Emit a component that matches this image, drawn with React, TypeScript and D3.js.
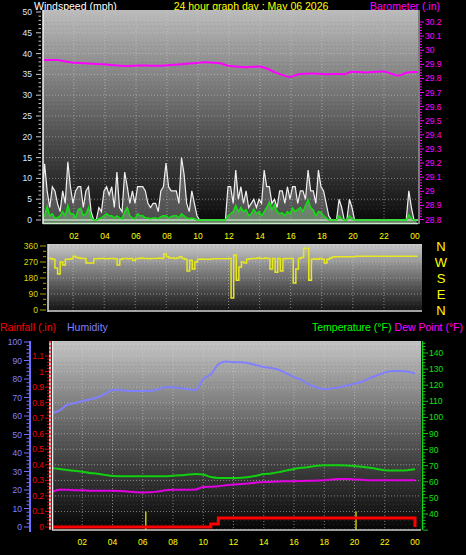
import React from "react";
import * as d3 from "d3";

// ---------- DATA ----------
// wind samples every 10 minutes from 00:00
const windGust: number[] = [
  5, 13.5, 7, 3, 8, 7, 4, 2, 7, 4, 14, 8, 4, 7, 8, 8, 3, 7, 8, 2,
  0, 0, 3, 2, 7, 8, 6, 8, 3, 11.5, 3, 2, 11.5, 8, 4, 7, 4, 8, 8, 8,
  7, 4, 3, 4, 4, 2, 7, 8, 13.7, 8, 7, 7, 7, 4, 15, 11, 4, 2, 7, 4,
  1, 0, 0, 0, 0, 0, 0, 0, 0, 0, 0, 0, 8, 8, 4, 12, 5, 8, 4, 7,
  3, 4, 5, 3, 5, 4, 12, 8, 8, 4, 5, 3, 7, 7, 4, 8, 5, 8, 8, 4,
  7, 7, 5, 12, 7, 7, 4, 12, 8, 7, 4, 1, 0, 0, 0, 5, 3, 0, 0, 5,
  3, 0, 0, 0, 0, 0, 0, 0, 0, 0, 0, 0, 0, 0, 0, 0, 0, 0, 0, 0,
  0, 0, 7, 3, 0, 0,
];
const windSpeed: number[] = [
  0.5, 1, 3.3, 1, 1.5, 0.5, 0.5, 1, 2, 1, 3.5, 1.5, 1.5, 0.5, 2.5, 2.8, 1, 1.5, 3, 0.5,
  0, 0, 0.3, 0.5, 1, 1.5, 1, 1, 0.5, 1, 0.5, 0.3, 2, 3, 1, 0.5, 0.3, 1.5, 1, 1,
  0.5, 0.5, 0.3, 0.5, 0.5, 0.3, 0.8, 1, 1, 0.5, 0.8, 1, 1, 0.5, 1.5, 1, 0.5, 0.3, 0.5, 0.3,
  0, 0, 0, 0, 0, 0, 0, 0, 0, 0, 0, 0, 1, 1.5, 2, 3.5, 2, 3, 2, 2.5,
  1, 1.5, 2.6, 1.5, 2, 1, 2, 3, 4.3, 2.5, 3.6, 2, 1.5, 1.7, 1, 2, 1.5, 2.9, 2, 2.5,
  3, 2, 3.5, 4.8, 3, 2.4, 1, 2, 1.9, 1, 0.5, 0, 0, 0, 0, 1, 0.3, 0, 0, 1,
  0.3, 0, 0, 0, 0, 0, 0, 0, 0, 0, 0, 0, 0, 0, 0, 0, 0, 0, 0, 0,
  0, 0, 1.2, 0.3, 0, 0,
];
const windDir: number[] = [
  290, 290, 290, 290, 285, 236, 202, 270, 253, 285, 285, 288, 303, 295, 292, 290, 290, 264, 264, 264,
  288, 288, 290, 290, 288, 288, 290, 290, 288, 253, 285, 290, 290, 288, 290, 278, 288, 290, 292, 290,
  290, 288, 290, 290, 290, 292, 290, 315, 300, 292, 292, 290, 292, 300, 290, 285, 219, 280, 230, 270,
  285, 287, 286, 286, 286, 287, 288, 288, 288, 288, 288, 288, 290, 67, 309, 168, 242, 270, 264, 285,
  288, 290, 290, 292, 290, 290, 292, 290, 230, 290, 213, 290, 220, 288, 290, 290, 290, 152, 230, 290,
  295, 348, 348, 168, 285, 288, 285, 290, 285, 264, 285, 292, 298, 300, 300, 300, 300, 300, 300, 300,
  300, 303, 303, 303, 303, 303, 303, 303, 303, 303, 303, 303, 303, 303, 303, 303, 303, 303, 303, 303,
  303, 303, 303, 303, 303, 303,
];
// half-hourly samples
const barometer: number[] = [
  29.93, 29.93, 29.93, 29.92, 29.912, 29.91, 29.905, 29.903, 29.9, 29.895,
  29.89, 29.888, 29.89, 29.892, 29.89, 29.889, 29.892, 29.897, 29.9, 29.905,
  29.91, 29.915, 29.912, 29.908, 29.89, 29.885, 29.88, 29.882, 29.884, 29.87,
  29.845, 29.825, 29.81, 29.828, 29.833, 29.835, 29.832, 29.83, 29.832, 29.83,
  29.848, 29.845, 29.842, 29.848, 29.85, 29.835, 29.82, 29.84, 29.846, 29.844,
];
const humidity: number[] = [
  61.5, 63, 66, 67, 68, 69, 70, 72, 74, 74, 73.5, 73.5, 73.5, 73.5, 74.5, 75.5, 75.5, 75, 74.5, 74,
  80, 82.5, 88, 89.5, 89, 89, 88.5, 87.5, 86.5, 86, 85, 83, 81, 79.5, 77, 75.5, 74.5, 75, 75.5, 76.5,
  77.5, 78.5, 80.5, 82, 83.5, 84.3, 84.3, 84, 83,
];
const temperature: number[] = [
  68.5, 68, 67.3, 66.8, 66.2, 65.5, 65, 64.3, 63.6, 63.5, 63.5, 63.5, 63.5, 63.5, 63.5, 63.5, 63.8, 64, 64.5, 64.8,
  64.5, 63, 62.4, 62.3, 62.3, 62.5, 63, 63.8, 64.8, 65.2, 66, 67, 68, 68.7, 69.2, 70, 70.3, 70.3, 70.3, 70.2,
  69.8, 69.3, 68.7, 68, 67.2, 67, 67, 67.2, 67.8,
];
const dewPoint: number[] = [
  53.6, 55, 55, 54.8, 54.8, 54.5, 54.5, 54.4, 54.5, 54.3, 54, 53.5, 53.4, 53.5, 54, 54.7, 55, 55, 55, 55.2,
  56.8, 57, 57.3, 57.8, 58.3, 58.6, 59, 59.5, 59.8, 60, 60.2, 60.4, 60.4, 60.5, 60.6, 60.8, 61, 61.5, 61.7, 61.8,
  61.5, 61.3, 61, 61, 61, 61, 61, 61, 61,
];
const rainfall: number[] = [
  0, 0, 0, 0, 0, 0, 0, 0, 0, 0, 0, 0, 0, 0, 0, 0, 0, 0, 0, 0,
  0, 0.02, 0.058, 0.058, 0.058, 0.058, 0.058, 0.058, 0.058, 0.058, 0.058, 0.058, 0.058, 0.058, 0.058, 0.058, 0.058, 0.058, 0.058, 0.058,
  0.058, 0.058, 0.058, 0.058, 0.058, 0.058, 0.058, 0.058, 0,
];
const sunMarkers: number[] = [6.2, 20.1];
const hourTicks: number[] = [2, 4, 6, 8, 10, 12, 14, 16, 18, 20, 22, 24];
const hourLabels: string[] = ["02", "04", "06", "08", "10", "12", "14", "16", "18", "20", "22", "00"];
const compass: string[] = ["N", "W", "S", "E", "N"];
const compassDeg: number[] = [360, 270, 180, 90, 0];

const FONT = "'Liberation Sans', Arial, sans-serif";

function range(a: number, b: number, s: number): number[] {
  const out: number[] = [];
  for (let v = a; v <= b + 1e-9; v += s) out.push(+v.toFixed(4));
  return out;
}

export default function App() {
  // top panel
  const TOP = { x0: 43, x1: 418, y0: 10, y1: 224 };
  const xTop = d3.scaleLinear().domain([0, 24]).range([42, 414]);
  const yWind = d3.scaleLinear().domain([0, 50]).range([220, 12]);
  const yBaro = d3.scaleLinear().domain([28.8, 30.2]).range([219.5, 22]);
  // middle panel
  const MID = { x0: 48, x1: 422, y0: 244, y1: 312 };
  const xMid = d3.scaleLinear().domain([0, 24]).range([42, 415]);
  const yDir = d3.scaleLinear().domain([0, 360]).range([310, 246]);
  // bottom panel
  const BOT = { x0: 52, x1: 421, y0: 341, y1: 530 };
  const xBot = d3.scaleLinear().domain([0, 24]).range([52, 415]);
  const yHum = d3.scaleLinear().domain([0, 100]).range([527, 342]);
  const yRain = d3.scaleLinear().domain([0, 1.1]).range([527, 356]);
  const yTemp = d3.scaleLinear().domain([40, 140]).range([514, 353]);

  const t10 = (i: number) => i / 6;
  const t30 = (i: number) => i / 2;

  const gustArea = d3.area<number>().x((_, i) => xTop(t10(i))).y0(yWind(0) + 3).y1((d) => yWind(d))(windGust) || "";
  const gustLine = d3.line<number>().x((_, i) => xTop(t10(i))).y((d) => yWind(d))(windGust) || "";
  const speedArea = d3.area<number>().x((_, i) => xTop(t10(i))).y0(yWind(0) + 3).y1((d) => yWind(d))(windSpeed) || "";
  const speedLine = d3.line<number>().x((_, i) => xTop(t10(i))).y((d) => yWind(d))(windSpeed) || "";
  const baroLine = d3.line<number>().x((_, i) => xTop(t30(i))).y((d) => yBaro(d)).curve(d3.curveMonotoneX)(barometer) || "";
  const dirLine = d3.line<number>().x((_, i) => xMid(t10(i))).y((d) => yDir(d)).curve(d3.curveStepAfter)(windDir) || "";
  const humLine = d3.line<number>().x((_, i) => xBot(t30(i))).y((d) => yHum(d)).curve(d3.curveMonotoneX)(humidity) || "";
  const tempLine = d3.line<number>().x((_, i) => xBot(t30(i))).y((d) => yTemp(d)).curve(d3.curveMonotoneX)(temperature) || "";
  const dewLine = d3.line<number>().x((_, i) => xBot(t30(i))).y((d) => yTemp(d)).curve(d3.curveMonotoneX)(dewPoint) || "";
  const rainLine = d3.line<number>().x((_, i) => xBot(t30(i))).y((d) => yRain(d)).curve(d3.curveStepAfter)(rainfall) || "";

  const gridStyle = { stroke: "#d0d0d0", strokeWidth: 1, strokeDasharray: "1 2", opacity: 0.55 };

  return (
    <svg
      width={466}
      height={555}
      style={{ position: "fixed", left: 0, top: 0, background: "#000", fontFamily: FONT }}
    >
      <defs>
        <linearGradient id="gTop" x1="0" y1="0" x2="0" y2="1">
          <stop offset="0" stopColor="#bcbcbc" />
          <stop offset="0.5" stopColor="#606060" />
          <stop offset="1" stopColor="#080808" />
        </linearGradient>
        <linearGradient id="gMid" x1="0" y1="0" x2="0" y2="1">
          <stop offset="0" stopColor="#c8c8c8" />
          <stop offset="1" stopColor="#101010" />
        </linearGradient>
        <linearGradient id="gBot" x1="0" y1="0" x2="0" y2="1">
          <stop offset="0" stopColor="#c4c4c4" />
          <stop offset="0.5" stopColor="#5a5a5a" />
          <stop offset="1" stopColor="#060606" />
        </linearGradient>
        <pattern id="dither" width="4" height="20" patternUnits="userSpaceOnUse">
          <rect x="0" y="0" width="1" height="1" fill="#ffffff" opacity="0.08" />
          <rect x="2" y="2" width="1" height="1" fill="#000000" opacity="0.1" />
          <rect x="1" y="4" width="1" height="1" fill="#ffffff" opacity="0.08" />
          <rect x="3" y="6" width="1" height="1" fill="#000000" opacity="0.1" />
          <rect x="0" y="8" width="1" height="1" fill="#ffffff" opacity="0.08" />
        </pattern>
        <clipPath id="cTop"><rect x={TOP.x0} y={TOP.y0} width={TOP.x1 - TOP.x0} height={TOP.y1 - TOP.y0} /></clipPath>
        <clipPath id="cMid"><rect x={MID.x0} y={MID.y0} width={MID.x1 - MID.x0} height={MID.y1 - MID.y0} /></clipPath>
        <clipPath id="cBot"><rect x={BOT.x0} y={BOT.y0} width={BOT.x1 - BOT.x0} height={BOT.y1 - BOT.y0} /></clipPath>
      </defs>

      {/* ---------- TOP PANEL ---------- */}
      <text x={34} y={10} fill="#ffffff" fontSize={10.5}>Windspeed (mph)</text>
      <text x={251} y={10} fill="#ffff00" fontSize={10.5} textAnchor="middle">24 hour graph day : May 06 2026</text>
      <text x={440} y={10} fill="#ff00ff" fontSize={10.5} textAnchor="end">Barometer (.in)</text>

      <rect x={TOP.x0} y={TOP.y0} width={TOP.x1 - TOP.x0} height={TOP.y1 - TOP.y0} fill="url(#gTop)" />
      <rect x={TOP.x0} y={TOP.y0} width={TOP.x1 - TOP.x0} height={TOP.y1 - TOP.y0} fill="url(#dither)" />
      <g clipPath="url(#cTop)">
        {hourTicks.slice(0, -1).map((h) => (
          <line key={"tv" + h} x1={xTop(h) + 1} x2={xTop(h) + 1} y1={TOP.y0} y2={TOP.y1} {...gridStyle} />
        ))}
        {range(5, 45, 5).map((v) => (
          <line key={"th" + v} x1={TOP.x0} x2={TOP.x1} y1={yWind(v)} y2={yWind(v)} {...gridStyle} />
        ))}
        <line x1={TOP.x0} x2={TOP.x1} y1={yWind(0)} y2={yWind(0)} stroke="#d8d8d8" strokeWidth={1.5} />
        <path d={gustArea} fill="rgba(200,200,200,0.35)" />
        <path d={gustLine} fill="none" stroke="#f0f0f0" strokeWidth={1.2} />
        <path d={speedArea} fill="rgba(160,230,160,0.35)" />
        <path d={speedLine} fill="none" stroke="#10e010" strokeWidth={1.5} />
        <path d={baroLine} fill="none" stroke="#ff00ff" strokeWidth={2} />
      </g>
      <line x1={TOP.x0} x2={TOP.x0} y1={TOP.y0} y2={TOP.y1} stroke="#f0f0f0" strokeWidth={1.5} />
      <line x1={TOP.x0} x2={TOP.x1} y1={TOP.y1 - 0.5} y2={TOP.y1 - 0.5} stroke="#c8ecc8" strokeWidth={1.5} />
      {/* left wind axis */}
      {range(0, 50, 1).map((v) => (
        <line key={"wm" + v} x1={v % 5 === 0 ? 36 : 38.5} x2={41} y1={yWind(v)} y2={yWind(v)} stroke="#c8c8c8" strokeWidth={1} />
      ))}
      {range(0, 50, 5).map((v) => (
        <text key={"wl" + v} x={32} y={yWind(v) + 3} fill="#dde6ff" fontSize={8.5} textAnchor="end">{v}</text>
      ))}
      {/* right baro axis */}
      <line x1={419} x2={419} y1={TOP.y0} y2={TOP.y1} stroke="#ffffff" strokeWidth={1} />
      {range(28.8, 30.2, 0.02).map((v, i) => (
        <line key={"bm" + i} x1={419} x2={i % 5 === 0 ? 424 : 422} y1={yBaro(v)} y2={yBaro(v)} stroke="#ff00ff" strokeWidth={1} />
      ))}
      {range(28.8, 30.2, 0.1).map((v) => (
        <text key={"bl" + v} x={425} y={yBaro(v) + 3} fill="#ff00ff" fontSize={8.5}>{d3.format(".3~f")(v)}</text>
      ))}

      {/* x labels between top & middle */}
      {hourTicks.map((h, i) => (
        <text key={"xl1" + h} x={xTop(h) + 1} y={239} fill="#ffff00" fontSize={8.5} textAnchor="middle">{hourLabels[i]}</text>
      ))}

      {/* ---------- MIDDLE PANEL ---------- */}
      <rect x={MID.x0} y={MID.y0} width={MID.x1 - MID.x0} height={MID.y1 - MID.y0} fill="url(#gMid)" />
      <rect x={MID.x0} y={MID.y0} width={MID.x1 - MID.x0} height={MID.y1 - MID.y0} fill="url(#dither)" />
      <g clipPath="url(#cMid)">
        {hourTicks.slice(0, -1).map((h) => (
          <line key={"mv" + h} x1={xMid(h)} x2={xMid(h)} y1={MID.y0} y2={MID.y1} {...gridStyle} />
        ))}
        {[90, 180, 270].map((v) => (
          <line key={"mh" + v} x1={MID.x0} x2={MID.x1} y1={yDir(v)} y2={yDir(v)} {...gridStyle} />
        ))}
        <path d={dirLine} fill="none" stroke="#e8e820" strokeWidth={1.5} />
      </g>
      <line x1={MID.x0} x2={MID.x0} y1={MID.y0} y2={MID.y1} stroke="#e0e0e0" strokeWidth={1.5} />
      <line x1={MID.x0} x2={MID.x1} y1={MID.y1 - 1} y2={MID.y1 - 1} stroke="#d0d0d0" strokeWidth={1.5} />
      {range(0, 360, 30).map((v) => (
        <line key={"dm" + v} x1={v % 90 === 0 ? 40 : 43} x2={46} y1={yDir(v)} y2={yDir(v)} stroke="#a0a000" strokeWidth={1} />
      ))}
      {[0, 90, 180, 270, 360].map((v) => (
        <text key={"dl" + v} x={38} y={yDir(v) + 3} fill="#d8d800" fontSize={8.5} textAnchor="end">{v}</text>
      ))}
      {compass.map((c, i) => (
        <text key={"cp" + i} x={441} y={yDir(compassDeg[i]) + 5} fill="#ffff00" fontSize={13} textAnchor="middle">{c}</text>
      ))}

      {/* ---------- BOTTOM PANEL ---------- */}
      <text x={0} y={331} fill="#ff0000" fontSize={10.5}>Rainfall (.in)</text>
      <text x={67} y={331} fill="#8080ff" fontSize={10.5}>Humidity</text>
      <text x={312} y={331} fill="#00ff00" fontSize={10.5}>Temperature (°F)</text>
      <text x={463} y={331} fill="#ff00ff" fontSize={10.5} textAnchor="end">Dew Point (°F)</text>

      <rect x={BOT.x0} y={BOT.y0} width={BOT.x1 - BOT.x0} height={BOT.y1 - BOT.y0} fill="url(#gBot)" />
      <rect x={BOT.x0} y={BOT.y0} width={BOT.x1 - BOT.x0} height={BOT.y1 - BOT.y0} fill="url(#dither)" />
      <g clipPath="url(#cBot)">
        {hourTicks.slice(0, -1).map((h) => (
          <line key={"bv" + h} x1={xBot(h)} x2={xBot(h)} y1={BOT.y0} y2={BOT.y1} {...gridStyle} />
        ))}
        {range(0.1, 1.1, 0.1).map((v) => (
          <line key={"bh" + v} x1={BOT.x0} x2={BOT.x1} y1={yRain(v)} y2={yRain(v)} {...gridStyle} />
        ))}
        {sunMarkers.map((h) => (
          <line key={"sm" + h} x1={xBot(h)} x2={xBot(h)} y1={yRain(0.1)} y2={BOT.y1} stroke="#c8c800" strokeWidth={1.5} />
        ))}
        <path d={humLine} fill="none" stroke="#8080ff" strokeWidth={2} />
        <path d={tempLine} fill="none" stroke="#10d010" strokeWidth={2} />
        <path d={dewLine} fill="none" stroke="#e000e0" strokeWidth={2} />
        <path d={rainLine} fill="none" stroke="#ff0000" strokeWidth={3} />
      </g>
      <line x1={BOT.x0 + 0.5} x2={BOT.x0 + 0.5} y1={BOT.y0} y2={BOT.y1} stroke="#f0f0f0" strokeWidth={1.5} />
      <line x1={BOT.x0} x2={BOT.x1} y1={BOT.y1} y2={BOT.y1} stroke="#d0d0d0" strokeWidth={1.5} />
      {/* humidity axis */}
      <line x1={30} x2={30} y1={BOT.y0} y2={BOT.y1 + 2} stroke="#7070ff" strokeWidth={2} />
      {range(0, 100, 2).map((v) => (
        <line key={"hm" + v} x1={v % 10 === 0 ? 24 : 26.5} x2={29} y1={yHum(v)} y2={yHum(v)} stroke="#7070ff" strokeWidth={1} />
      ))}
      {range(0, 100, 10).map((v) => (
        <text key={"hl" + v} x={22} y={yHum(v) + 3} fill="#8080ff" fontSize={8.5} textAnchor="end">{v}</text>
      ))}
      {/* rain axis */}
      <line x1={50} x2={50} y1={BOT.y0} y2={BOT.y1} stroke="#ffffff" strokeWidth={1.5} />
      <line x1={50} x2={50} y1={BOT.y0} y2={BOT.y1} stroke="#ff2020" strokeWidth={1.5} strokeDasharray="2 2" />
      {range(0, 1.1, 0.02).map((v, i) => (
        <line key={"rm" + i} x1={i % 5 === 0 ? 45 : 47} x2={49} y1={yRain(v)} y2={yRain(v)} stroke="#e00000" strokeWidth={1} />
      ))}
      {range(0, 1.1, 0.1).map((v) => (
        <text key={"rl" + v} x={44} y={yRain(v) + 3} fill="#ee0000" fontSize={8.5} textAnchor="end">{d3.format("~g")(v)}</text>
      ))}
      {/* temperature axis */}
      <line x1={422.5} x2={422.5} y1={BOT.y0} y2={BOT.y1} stroke="#10d010" strokeWidth={1.5} />
      {range(30, 146, 2).map((v) => (
        <line key={"tm" + v} x1={423} x2={v % 10 === 0 ? 428 : 425.5} y1={yTemp(v)} y2={yTemp(v)} stroke="#10d010" strokeWidth={1} />
      ))}
      {range(40, 140, 10).map((v) => (
        <text key={"tl" + v} x={429} y={yTemp(v) + 3} fill="#10e010" fontSize={8.5}>{v}</text>
      ))}
      {hourTicks.map((h, i) => (
        <text key={"xl2" + h} x={xBot(h)} y={545} fill="#ffff00" fontSize={8.5} textAnchor="middle">{hourLabels[i]}</text>
      ))}
    </svg>
  );
}
